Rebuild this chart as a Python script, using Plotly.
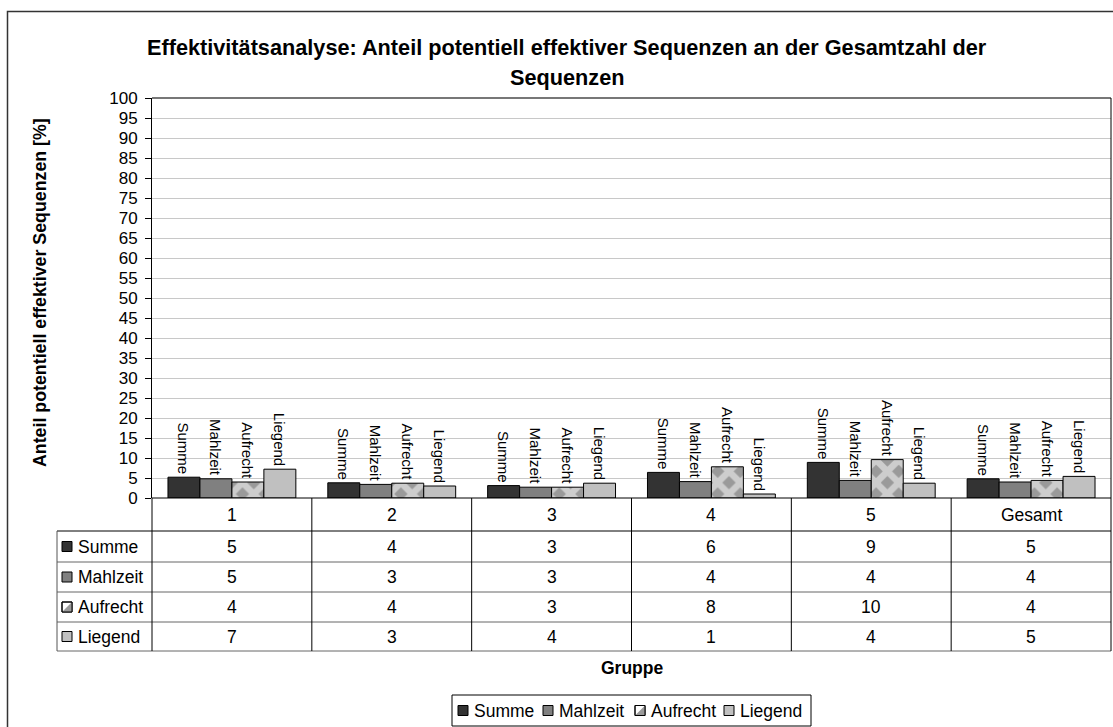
import plotly.graph_objects as go

# --- data -------------------------------------------------------------
groups = ["1", "2", "3", "4", "5", "Gesamt"]
series_names = ["Summe", "Mahlzeit", "Aufrecht", "Liegend"]
summe = [5.2, 3.8, 3.1, 6.4, 8.9, 4.8]
mahlzeit = [4.8, 3.4, 2.7, 4.1, 4.4, 4.0]
aufrecht = [4.0, 3.7, 2.7, 7.8, 9.6, 4.4]
liegend = [7.2, 3.0, 3.7, 1.0, 3.7, 5.4]
y_ticks = list(range(0, 101, 5))

title_line1 = "Effektivitätsanalyse: Anteil potentiell effektiver Sequenzen an der Gesamtzahl der"
title_line2 = "Sequenzen"
y_title = "Anteil potentiell effektiver Sequenzen [%]"
x_title = "Gruppe"

values = [summe, mahlzeit, aufrecht, liegend]

# --- geometry (pixels) ------------------------------------------------
W, H = 1113, 727
PL, PR, PT, PB = 152, 1111, 98, 498          # plot area edges
FONT = "Liberation Sans, Arial, sans-serif"
TXT = 17.5


def fx(px):
    return (px - PL) / (PR - PL)


def fy(py):
    return (PB - py) / (PB - PT)


fills = ["#333333", "#808080", "white", "#c0c0c0"]

fig = go.Figure()
for name, vals, col in zip(series_names, values, fills):
    marker = dict(color=col, line=dict(color="black", width=1))
    if name == "Aufrecht":
        marker["pattern"] = dict(shape="x", fgcolor="white", bgcolor="#9a9a9a",
                                 size=16, solidity=0.65)
    fig.add_trace(go.Bar(
        x=groups, y=vals, name=name, marker=marker,
        text=[name] * len(vals), textposition="outside", textangle=90,
        textfont=dict(family=FONT, size=15, color="black"),
        constraintext="none", cliponaxis=False, showlegend=False,
    ))

shapes = []
annotations = []


def label(x, y, text, xref="paper", size=TXT, xanchor="center", angle=0):
    annotations.append(dict(x=x, xref=xref, y=y, yref="paper", text=text,
                            showarrow=False, xanchor=xanchor, yanchor="middle",
                            textangle=angle,
                            font=dict(family=FONT, size=size, color="black")))


def key_square(px, cy, col, split):
    """Small series key: filled square, the upright series drawn half grey."""
    shapes.append(dict(type="rect", xref="paper", yref="paper",
                       x0=fx(px), x1=fx(px + 10), y0=fy(cy - 5), y1=fy(cy + 5),
                       fillcolor=col, line=dict(color="black", width=1)))
    if split:
        shapes.append(dict(type="path", xref="paper", yref="paper",
                           path=(f"M {fx(px + 10)} {fy(cy - 5)} L {fx(px + 10)} {fy(cy + 5)} "
                                 f"L {fx(px)} {fy(cy + 5)} Z"),
                           fillcolor="#9a9a9a", line=dict(width=0)))
        shapes.append(dict(type="rect", xref="paper", yref="paper",
                           x0=fx(px), x1=fx(px + 10), y0=fy(cy - 5), y1=fy(cy + 5),
                           line=dict(color="black", width=1)))


# outer chart frame (continues beyond the page edge on the right and bottom)
shapes.append(dict(type="rect", xref="paper", yref="paper",
                   x0=fx(7.5), x1=fx(1130), y0=fy(11.5), y1=fy(760),
                   line=dict(color="#333333", width=1.5), layer="below"))
# plot area frame: top and right
shapes.append(dict(type="line", xref="paper", yref="paper",
                   x0=fx(PL), x1=fx(PR), y0=1, y1=1,
                   line=dict(color="#777777", width=2)))
shapes.append(dict(type="line", xref="paper", yref="paper",
                   x0=fx(PR), x1=fx(PR), y0=0, y1=1,
                   line=dict(color="black", width=1)))

# data table under the axis
row_edges = [498, 531, 562, 592, 622, 651]
tbl_left = 57
col_w = (PR - PL) / len(groups)
for i, ry in enumerate(row_edges):
    if i == 0:
        x0, colr = PL, "black"
    elif i == 1:
        x0, colr = tbl_left, "black"
    else:
        x0, colr = tbl_left, "#666666"
    shapes.append(dict(type="line", xref="paper", yref="paper",
                       x0=fx(x0), x1=fx(PR), y0=fy(ry), y1=fy(ry),
                       line=dict(color=colr, width=1)))
shapes.append(dict(type="line", xref="paper", yref="paper",
                   x0=fx(tbl_left), x1=fx(tbl_left), y0=fy(531), y1=fy(651),
                   line=dict(color="#555555", width=1)))
for k in range(len(groups) + 1):
    vx = PL + k * col_w
    shapes.append(dict(type="line", xref="paper", yref="paper",
                       x0=fx(vx), x1=fx(vx), y0=fy(498), y1=fy(651),
                       line=dict(color="black", width=1)))

# category row (positions on the category axis by index)
for gi, g in enumerate(groups):
    label(gi, fy((row_edges[0] + row_edges[1]) / 2), g, xref="x")

# series rows with key squares
for r, (name, vals, col) in enumerate(zip(series_names, values, fills)):
    cy = (row_edges[r + 1] + row_edges[r + 2]) / 2
    key_square(62, cy, col, name == "Aufrecht")
    label(fx(76), fy(cy), name, xanchor="left")
    for gi, v in enumerate(vals):
        label(gi, fy(cy), f"{v:.0f}", xref="x")

# legend box below the axis title
LEG_TOP, LEG_BOT, LEG_L, LEG_R = 695, 726, 452, 811
shapes.append(dict(type="rect", xref="paper", yref="paper",
                   x0=fx(LEG_L), x1=fx(LEG_R), y0=fy(LEG_TOP), y1=fy(LEG_BOT),
                   fillcolor="white", line=dict(color="black", width=1)))
leg_cy = (LEG_TOP + LEG_BOT) / 2
for name, col, kx in zip(series_names, fills, [458, 543, 635, 724]):
    key_square(kx, leg_cy, col, name == "Aufrecht")
    label(fx(kx + 14), fy(leg_cy), name, xanchor="left")

# titles
label(fx(567), fy(47), f"<b>{title_line1}</b>", size=21.7)
label(fx(567), fy(77), f"<b>{title_line2}</b>", size=21.7)
label(fx(40), fy(293), f"<b>{y_title}</b>", size=17.8, angle=-90)
label(0.5, fy(668), f"<b>{x_title}</b>", size=17.5)

fig.update_layout(
    width=W, height=H,
    margin=dict(l=PL, r=W - PR, t=PT, b=H - PB, pad=0, autoexpand=False),
    paper_bgcolor="white", plot_bgcolor="white",
    barmode="group", bargap=0.2, bargroupgap=0,
    font=dict(family=FONT, size=TXT, color="black"),
    showlegend=False,
    shapes=shapes, annotations=annotations,
)
fig.update_xaxes(showticklabels=False, showgrid=False, zeroline=False,
                 showline=False, ticks="", range=[-0.5, len(groups) - 0.5])
fig.update_yaxes(range=[0, 100], tickvals=y_ticks, ticks="outside", ticklen=6,
                 tickcolor="black", showline=True, linecolor="black", linewidth=1,
                 showgrid=True, gridcolor="#c8c8c8", gridwidth=1, zeroline=False,
                 tickfont=dict(family=FONT, size=17, color="black"),
                 ticklabelstandoff=4)

fig.write_html("out.html")
